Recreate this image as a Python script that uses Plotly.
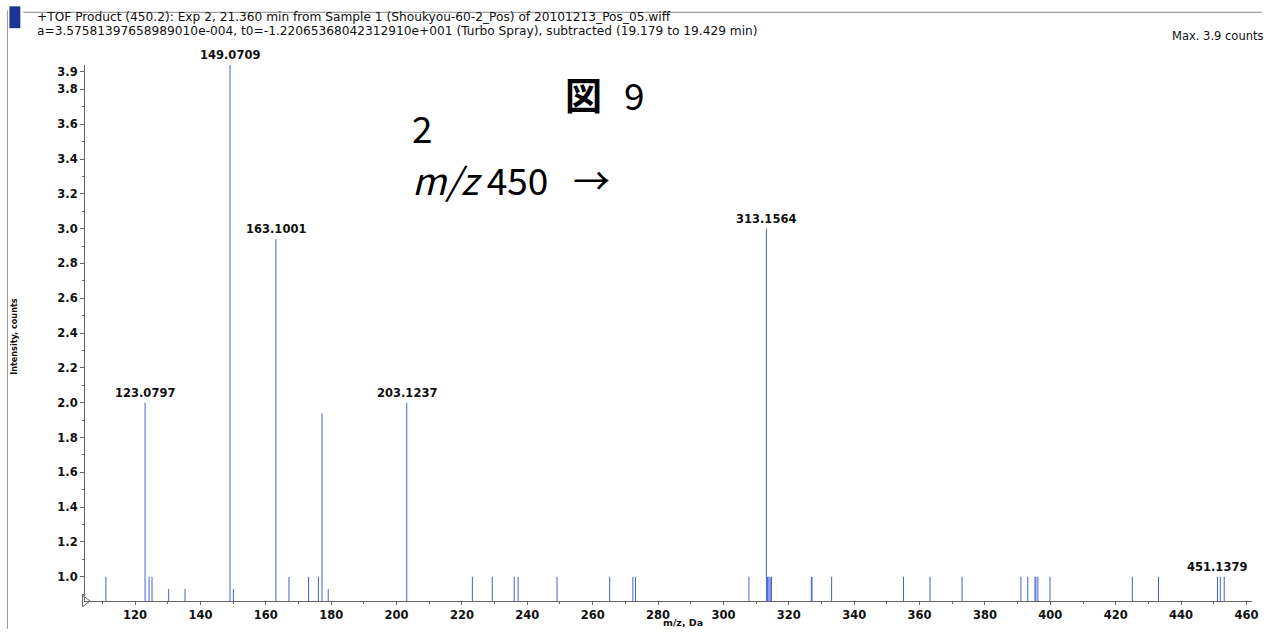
import plotly.graph_objects as go

# ---- data ----
mz_values = [111.1, 123.0797, 124.3, 125.2, 130.3, 135.3, 149.0709, 150.1,
             163.1001, 167.1, 173.1, 176.1, 177.2, 179.1, 203.1237,
             223.2, 229.3, 236.0, 237.2, 249.1, 265.2, 272.3, 273.1, 307.8,
             313.1564, 313.5, 313.9, 314.3, 314.7, 326.9, 327.1, 333.1,
             355.1, 363.2, 373.0, 391.0, 393.1, 395.3, 395.6, 396.2, 399.9,
             425.1, 433.1, 451.1379, 452.0, 453.2]
intensities = [1.0, 2.0, 1.0, 1.0, 0.93, 0.93, 3.94, 0.93,
               2.94, 1.0, 1.0, 1.0, 1.94, 0.93, 2.0,
               1.0, 1.0, 1.0, 1.0, 1.0, 1.0, 1.0, 1.0, 1.0,
               3.0, 1.0, 1.0, 1.0, 1.0, 1.0, 1.0, 1.0,
               1.0, 1.0, 1.0, 1.0, 1.0, 1.0, 1.0, 1.0, 1.0,
               1.0, 1.0, 1.0, 1.0, 1.0]
labeled_peaks = [123.0797, 149.0709, 163.1001, 203.1237, 313.1564, 451.1379]

x_ticks = [120, 140, 160, 180, 200, 220, 240, 260, 280, 300, 320, 340,
           360, 380, 400, 420, 440, 460]
y_ticks = [1.0, 1.2, 1.4, 1.6, 1.8, 2.0, 2.2, 2.4, 2.6, 2.8, 3.0, 3.2,
           3.4, 3.6, 3.8, 3.9]

header_line1 = "+TOF Product (450.2): Exp 2, 21.360 min from Sample 1 (Shoukyou-60-2_Pos) of 20101213_Pos_05.wiff"
header_line2 = "a=3.57581397658989010e-004, t0=-1.22065368042312910e+001 (Turbo Spray), subtracted (19.179 to 19.429 min)"
max_text = "Max. 3.9 counts"
x_title = "m/z, Da"
y_title = "Intensity, counts"

# ---- geometry ----
W, H = 1268, 632
ML, MR, MT, MB = 85, 10, 65, 28
PW, PH = W - ML - MR, H - MT - MB
XR = [104.7, 461.7]
YR = [0.861, 3.94]


def px(x):
    return (x - ML) / PW


def py(y):
    return (H - MB - y) / PH


# stick spectrum built from the arrays
xs, ys = [], []
for m, h in zip(mz_values, intensities):
    xs += [m, m, None]
    ys += [0, h, None]

peak_color = "#4262d6"
axis_color = "#666666"
lab_font = dict(family="DejaVu Sans", size=11.5, color="#111111", weight="bold")

fig = go.Figure()
fig.add_trace(go.Scatter(x=xs, y=ys, mode="lines",
                         line=dict(color=peak_color, width=1),
                         hoverinfo="skip", showlegend=False))
fig.add_trace(go.Scatter(x=[XR[0]], y=[YR[0]], mode="markers",
                         marker=dict(symbol="triangle-right-open", size=10,
                                     color=axis_color, line=dict(width=1)),
                         cliponaxis=False, showlegend=False, hoverinfo="skip"))

annotations = []
for m in labeled_peaks:
    h = intensities[mz_values.index(m)]
    annotations.append(dict(x=m, y=h, xref="x", yref="y", text=f"{m:.4f}",
                            showarrow=False, yanchor="bottom", yshift=1,
                            font=lab_font))

hdr_font = dict(family="DejaVu Sans", size=12.2, color="#111111")
big_font = dict(family="Noto Sans CJK JP", size=37, color="#000000")
annotations += [
    dict(x=px(35), y=py(17), xref="paper", yref="paper", text=header_line1,
         showarrow=False, xanchor="left", yanchor="middle", font=hdr_font),
    dict(x=px(35), y=py(31), xref="paper", yref="paper", text=header_line2,
         showarrow=False, xanchor="left", yanchor="middle", font=hdr_font),
    dict(x=px(1271), y=py(36), xref="paper", yref="paper", text=max_text,
         showarrow=False, xanchor="right", yanchor="middle",
         font=dict(family="DejaVu Sans", size=11.5, color="#111111")),
    dict(x=px(686), y=py(633), xref="paper", yref="paper", text=x_title,
         showarrow=False, xanchor="center", yanchor="bottom",
         font=dict(family="DejaVu Sans", size=9.5, color="#111111", weight="bold")),
    dict(x=px(14), y=py(338), xref="paper", yref="paper", text=y_title,
         showarrow=False, xanchor="center", yanchor="middle", textangle=-90,
         font=dict(family="DejaVu Sans Condensed", size=9, color="#111111", weight="bold")),
    dict(x=px(565), y=py(94), xref="paper", yref="paper", text="<b>図</b>",
         showarrow=False, xanchor="left", yanchor="middle", font=big_font),
    dict(x=px(625), y=py(94), xref="paper", yref="paper", text="9",
         showarrow=False, xanchor="left", yanchor="middle", font=big_font),
    dict(x=px(412), y=py(127), xref="paper", yref="paper", text="2",
         showarrow=False, xanchor="left", yanchor="middle", font=big_font),
    dict(x=px(412), y=py(180), xref="paper", yref="paper",
         text="<i>m/z</i>\u00a0450\u00a0\u00a0\u00a0→",
         showarrow=False, xanchor="left", yanchor="middle", font=big_font),
]

shapes = [
    dict(type="rect", xref="paper", yref="paper", x0=px(9), x1=px(20),
         y0=py(6), y1=py(28), fillcolor="#1c3494", line=dict(width=0)),
    dict(type="line", xref="paper", yref="paper", x0=px(23), x1=px(1268),
         y0=py(12), y1=py(12), line=dict(color="#888888", width=1)),
    dict(type="line", xref="paper", yref="paper", x0=px(7), x1=px(7),
         y0=py(10), y1=py(632), line=dict(color="#999999", width=1)),
]

fig.update_layout(
    width=W, height=H,
    margin=dict(l=ML, r=MR, t=MT, b=MB, pad=0),
    paper_bgcolor="white", plot_bgcolor="white",
    showlegend=False,
    annotations=annotations, shapes=shapes,
    xaxis=dict(range=XR, tickvals=x_ticks, ticks="outside", ticklen=3,
               tickcolor=axis_color, showline=True, linecolor=axis_color,
               linewidth=1, showgrid=False, zeroline=False,
               tickfont=lab_font,
               minor=dict(tickvals=list(range(110, 461, 10)), ticks="outside",
                          ticklen=2, tickcolor=axis_color)),
    yaxis=dict(range=YR, tickvals=y_ticks, ticktext=[f"{v:.1f}" for v in y_ticks],
               ticks="outside", ticklen=4, tickcolor=axis_color,
               showline=True, linecolor=axis_color, linewidth=1,
               showgrid=False, zeroline=False, tickfont=lab_font,
               minor=dict(dtick=0.1, tick0=0, ticks="outside", ticklen=2,
                          tickcolor=axis_color)),
)

fig.write_html("out.html",
               config={"displayModeBar": False},
               post_script="document.body.style.margin='0px';"
                           "document.body.style.overflow='hidden';")
